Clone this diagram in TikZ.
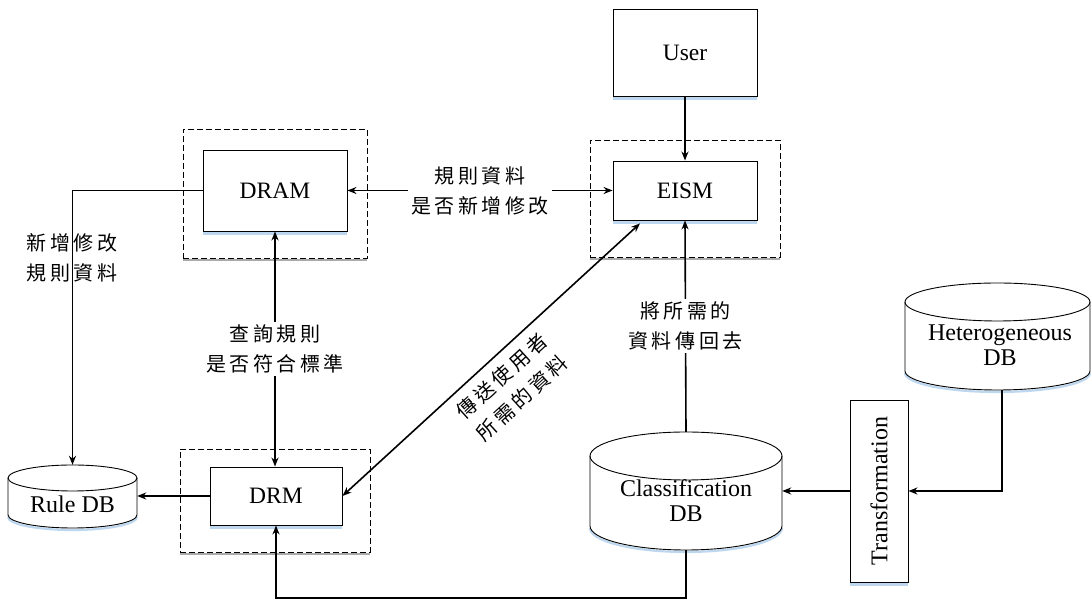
\documentclass[tikz,border=0pt]{standalone}
\usepackage{fontspec}
\setmainfont{Liberation Serif}
\newfontfamily\cjk[LetterSpace=18]{Noto Sans CJK TC}
\usetikzlibrary{arrows.meta}
\definecolor{shadowblue}{RGB}{190,215,240}
\definecolor{shadowgrey}{RGB}{170,170,170}
\begin{document}
\begin{tikzpicture}[x=1pt,y=1pt,
  box/.style={draw, line width=0.9pt, fill=white, inner sep=0pt,
              font=\fontsize{23.5}{26}\selectfont},
  group/.style={draw, line width=0.9pt, dash pattern=on 6pt off 3pt, inner sep=0pt},
  hold/.style={inner sep=0pt},
  dbtext/.style={align=center, font=\fontsize{24}{25}\selectfont},
  dbshape/.style={draw, line width=0.9pt, fill=white},
  link/.style={line width=1.6pt, -{Stealth[length=9pt,width=7pt]}},
  linkboth/.style={line width=1.6pt, {Stealth[length=9pt,width=7pt]}-{Stealth[length=9pt,width=7pt]}},
  zh/.style={align=center, font=\cjk\fontsize{20}{30}\selectfont},
  zhbg/.style={zh, fill=white, inner sep=3pt},
  boxshadow/.style={draw=shadowblue, line width=2.2pt},
  groupshadow/.style={draw=shadowgrey, line width=2pt}
]
\useasboundingbox (0,0) rectangle (1092,601);

% dashed module frames
\node[group, minimum width=190pt, minimum height=117pt] (eismg) at (685,402.5) {};
\node[group, minimum width=184pt, minimum height=129pt] (dramg) at (275,407.5) {};
\node[group, minimum width=190pt, minimum height=103pt] (drmg) at (275,100.5) {};
\foreach \g in {eismg,dramg,drmg}
  \draw[groupshadow] ([yshift=-2pt]\g.south west) -- ([yshift=-2pt]\g.south east);

% process boxes
\node[box, minimum width=144pt, minimum height=87pt] (user) at (685,548.5) {User};
\node[box, minimum width=144pt, minimum height=59pt] (eism) at (685,410.5) {EISM};
\node[box, minimum width=144pt, minimum height=81pt] (dram) at (275,410.5) {DRAM};
\node[box, minimum width=132pt, minimum height=58pt] (drm) at (276,105) {DRM};
\node[box, minimum width=58pt, minimum height=182pt] (trans) at (879,110) {};
\node[rotate=90, font=\fontsize{24}{26}\selectfont] (transtext) at (trans.center) {Transformation};
\foreach \b in {user,eism,dram,drm,trans}
  \draw[boxshadow] ([yshift=-2pt]\b.south west) -- ([yshift=-2pt]\b.south east);

% databases
\draw[boxshadow] (8,84) arc[start angle=180,end angle=360,x radius=64.5,y radius=13];
\draw[dbshape] (8,123) -- (8,86) arc[start angle=180,end angle=360,x radius=64.5,y radius=13]
  -- (137,123) arc[start angle=0,end angle=180,x radius=64.5,y radius=13] -- cycle;
\draw[line width=0.9pt] (8,123) arc[start angle=180,end angle=360,x radius=64.5,y radius=13];
\node[hold, minimum width=129pt, minimum height=63pt] (rule) at (72.5,104.5) {};
\node[dbtext] (ruletext) at (72.5,97) {Rule DB};

\draw[boxshadow] (590,73) arc[start angle=180,end angle=360,x radius=96,y radius=24];
\draw[dbshape] (590,145) -- (590,75) arc[start angle=180,end angle=360,x radius=96,y radius=24]
  -- (782,145) arc[start angle=0,end angle=180,x radius=96,y radius=24] -- cycle;
\draw[line width=0.9pt] (590,145) arc[start angle=180,end angle=360,x radius=96,y radius=24];
\node[hold, minimum width=192pt, minimum height=118pt] (cls) at (686,110) {};
\node[dbtext] (clstext) at (686,100.5) {Classification\\DB};

\draw[boxshadow] (905,228) arc[start angle=180,end angle=360,x radius=92.5,y radius=19];
\draw[dbshape] (905,299) -- (905,230) arc[start angle=180,end angle=360,x radius=92.5,y radius=19]
  -- (1090,299) arc[start angle=0,end angle=180,x radius=92.5,y radius=19] -- cycle;
\draw[line width=0.9pt] (905,299) arc[start angle=180,end angle=360,x radius=92.5,y radius=19];
\node[hold, minimum width=185pt, minimum height=107pt] (het) at (997.5,264.5) {};
\node[dbtext] (hettext) at (1000,255.5) {Heterogeneous\\DB};

% connectors
\coordinate (eismin) at ([xshift=-45pt,yshift=-3pt]eism.south);
\draw[link] (user.south) -- (eism.north);
\draw[link] (cls.north) -- node[zhbg] (lblret) {將所需的\\資料傳回去} (eism.south);
\draw[linkboth] (dram.east) -- node[zhbg] (lblrule) {規則資料\\是否新增修改} (eism.west);
\draw[linkboth] (dram.south) -- node[zhbg] (lblquery) {查詢規則\\是否符合標準} (dram.south |- drm.north);
\draw[linkboth] (drm.east) -- (eismin);
\node[zh, rotate=42.3] (lblsend) at (512,214) {傳送使用者\\所需的資料};
\draw[link] (dram.west) -| (rule.north);
\node[zh] (lbladd) at (72,343) {新增修改\\規則資料};
\draw[link] (drm.west) -- (drm.west -| rule.east);
\draw[link] (cls.south) -- ++(0,-48) -| (drm.south);
\draw[link] (trans.west) -- (trans.west -| cls.east);
\draw[link] ([xshift=4.5pt]het.south) |- (trans.east);
\end{tikzpicture}
\end{document}
